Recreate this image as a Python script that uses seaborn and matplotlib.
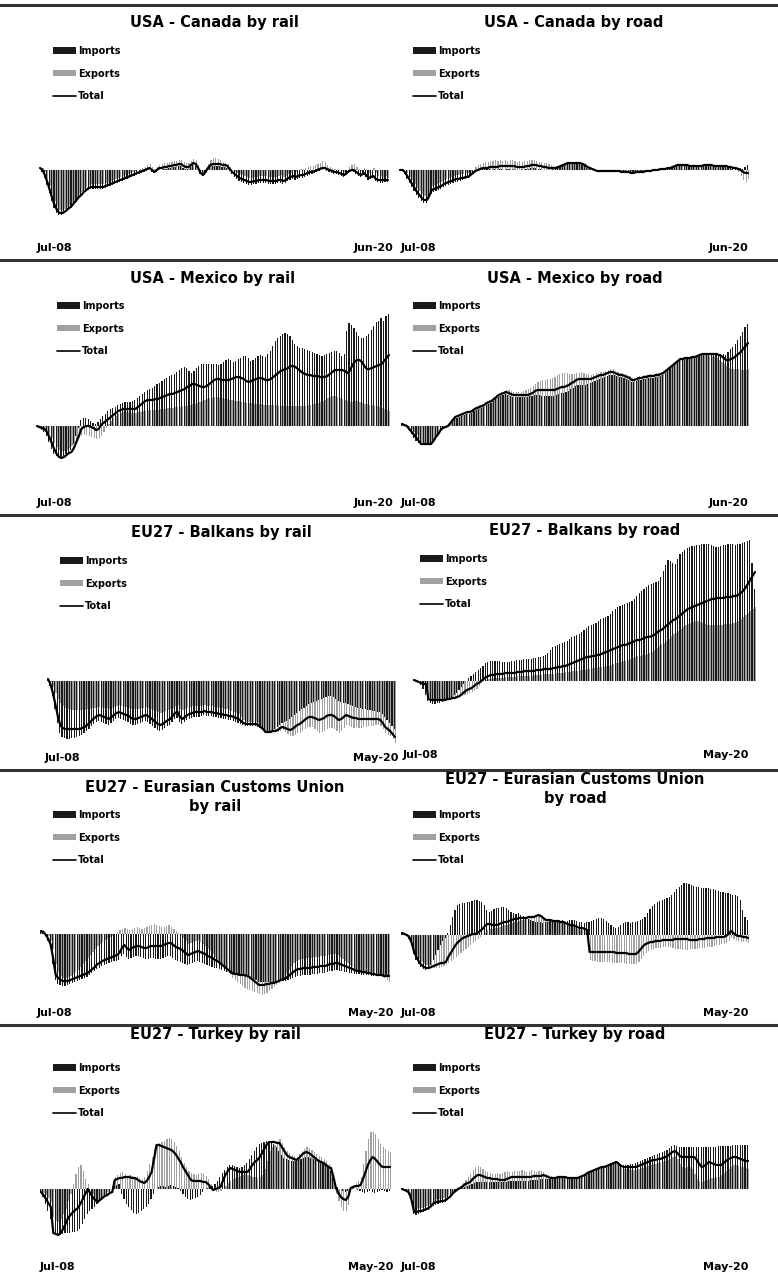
import numpy as np
import pandas as pd
import matplotlib
matplotlib.use("Agg")
import matplotlib.pyplot as plt
from matplotlib.patches import Patch
from matplotlib.lines import Line2D
import seaborn as sns

sns.set_theme(style="white")
plt.rcParams["font.family"] = ["DejaVu Sans"]
plt.rcParams["text.color"] = "black"

W, H = 778, 1275
IMP_COLOR = "#1a1a1a"
EXP_COLOR = "#a0a0a0"

# Monthly change in freight volume vs. July 2008 (%), imports / exports / total.

# USA - Canada by rail (Jul-08 .. Jun-20)
can_rail_imp = [0, -2, -8, -15, -23, -31, -38, -43, -45, -45, -44, -42,
                -40, -38, -35, -32, -29, -27, -24, -22, -20, -19, -19, -19,
                -19, -19, -19, -18, -17, -16, -15, -14, -13, -12, -11, -10,
                -9, -8, -7, -6, -5, -4, -3, -2, -1, 0, -2, -3,
                -2, 0, 0, 1, 1, 2, 2, 3, 3, 4, 4, 2,
                1, 1, 3, 5, 4, 0, -4, -6, -3, 0, 3, 4,
                4, 4, 4, 3, 3, 2, -1, -4, -7, -9, -11, -12,
                -13, -14, -15, -15, -14, -14, -13, -13, -13, -13, -14, -14,
                -14, -14, -13, -13, -14, -13, -11, -10, -9, -10, -9, -8,
                -8, -7, -6, -5, -4, -3, -2, -1, 0, 0, -1, -2,
                -3, -4, -4, -5, -6, -7, -5, -3, -2, -2, -4, -6,
                -7, -5, -7, -10, -9, -8, -11, -12, -13, -13, -12, -12]
can_rail_exp = [3, 2, -2, -9, -16, -24, -31, -36, -40, -40, -39, -37,
                -35, -33, -30, -27, -24, -22, -19, -17, -15, -14, -14, -14,
                -14, -14, -14, -13, -12, -11, -10, -9, -8, -7, -6, -5,
                -4, -3, -2, -1, 0, 1, 2, 3, 5, 6, 3, 1,
                3, 5, 6, 7, 7, 8, 8, 9, 9, 10, 10, 8,
                7, 7, 9, 11, 10, 5, -1, -3, 1, 6, 10, 12,
                12, 11, 10, 8, 7, 6, 3, 0, -2, -3, -4, -5,
                -6, -7, -8, -8, -7, -7, -6, -6, -6, -6, -7, -7,
                -7, -7, -6, -5, -7, -6, -4, -3, -1, -2, 0, 1,
                1, 2, 3, 4, 4, 5, 6, 7, 9, 8, 5, 3,
                2, 1, 1, 0, -1, -2, 0, 3, 5, 6, 3, 1,
                -1, 2, 1, -3, 0, 2, -3, -6, -6, -8, -6, -8]
can_rail_tot = [2, 0, -5, -12, -20, -28, -35, -40, -43, -43, -42, -40,
                -38, -36, -33, -30, -27, -25, -22, -20, -18, -17, -17, -17,
                -17, -17, -17, -16, -15, -14, -13, -12, -11, -10, -9, -8,
                -7, -6, -5, -4, -3, -2, -1, 0, 1, 2, 0, -2,
                0, 2, 2, 3, 3, 4, 4, 5, 5, 6, 6, 4,
                3, 3, 5, 7, 6, 2, -3, -5, -2, 2, 5, 6,
                6, 6, 6, 5, 5, 4, 1, -2, -4, -6, -8, -9,
                -10, -11, -12, -12, -11, -11, -10, -10, -10, -10, -11, -11,
                -11, -11, -10, -10, -11, -10, -8, -7, -6, -7, -6, -5,
                -5, -4, -3, -2, -2, -1, 0, 1, 2, 2, 1, 0,
                -1, -2, -2, -3, -4, -5, -3, -1, 0, 0, -2, -4,
                -5, -3, -5, -8, -7, -6, -9, -10, -10, -10, -10, -10]

# USA - Canada by road
can_road_imp = [0, -1, -4, -9, -13, -17, -21, -25, -28, -31, -33, -33,
                -29, -24, -22, -21, -20, -19, -17, -16, -15, -14, -13, -12,
                -12, -11, -10, -9, -8, -6, -3, -1, 0, 0, 1, 1,
                1, 1, 0, 1, 0, 1, 1, 0, 1, 1, 0, 1,
                0, 0, 1, 0, 1, 1, 2, 2, 2, 1, 1, 0,
                0, 0, 0, 1, 1, 2, 3, 4, 5, 6, 6, 6,
                6, 6, 6, 5, 4, 2, 1, 0, -1, -2, -2, -2,
                -2, -2, -2, -2, -2, -2, -2, -3, -3, -3, -3, -4,
                -4, -3, -3, -3, -3, -2, -2, -2, -1, -1, -1, 0,
                0, 1, 2, 2, 3, 4, 5, 5, 5, 5, 5, 4,
                4, 4, 4, 4, 5, 5, 6, 6, 6, 5, 5, 5,
                5, 5, 5, 4, 4, 3, 3, 2, 2, 1, 3, 5]
can_road_exp = [1, 1, 0, -3, -7, -10, -14, -18, -21, -24, -26, -26,
                -22, -16, -15, -14, -13, -12, -10, -9, -8, -7, -6, -5,
                -5, -4, -4, -3, -3, -2, 0, 3, 5, 6, 7, 8,
                8, 9, 9, 10, 9, 10, 9, 10, 9, 10, 10, 9,
                8, 9, 8, 9, 9, 10, 10, 10, 9, 8, 8, 7,
                7, 6, 5, 4, 4, 4, 5, 6, 7, 8, 8, 8,
                8, 8, 8, 7, 6, 4, 3, 2, 1, 0, 0, 0,
                0, 0, 0, -1, 0, 0, -1, -1, -1, -1, -1, -2,
                -2, -1, -1, -1, -1, 0, 0, 0, 1, 1, 1, 2,
                2, 2, 2, 3, 3, 4, 5, 5, 5, 5, 5, 4,
                4, 4, 3, 4, 3, 4, 4, 4, 4, 3, 3, 3,
                3, 3, 2, 2, 1, 0, 0, -2, -6, -10, -12, -9]
can_road_tot = [0, 0, -2, -6, -10, -14, -18, -22, -25, -28, -30, -30,
                -26, -20, -19, -18, -17, -16, -14, -13, -12, -11, -10, -9,
                -9, -8, -8, -7, -7, -5, -3, -1, 0, 1, 2, 2,
                2, 3, 3, 3, 3, 4, 4, 4, 4, 4, 4, 4,
                3, 3, 3, 3, 4, 4, 5, 5, 5, 4, 4, 3,
                3, 2, 2, 2, 2, 3, 4, 5, 6, 7, 7, 7,
                7, 7, 7, 6, 5, 3, 2, 1, 0, -1, -1, -1,
                -1, -1, -1, -1, -1, -1, -1, -2, -2, -2, -2, -3,
                -3, -2, -2, -2, -2, -1, -1, -1, 0, 0, 0, 1,
                1, 1, 2, 2, 3, 4, 5, 5, 5, 5, 5, 4,
                4, 4, 4, 4, 4, 5, 5, 5, 5, 4, 4, 4,
                4, 4, 4, 3, 3, 2, 2, 1, 0, -2, -3, -3]

# USA - Mexico by rail
mex_rail_imp = [0, -2, -4, -6, -10, -16, -23, -28, -30, -31, -31, -30,
                -28, -26, -24, -18, -10, -2, 6, 8, 8, 7, 5, 3,
                2, 4, 7, 10, 12, 15, 17, 18, 19, 21, 22, 23,
                24, 24, 24, 25, 26, 28, 30, 32, 34, 36, 37, 38,
                40, 42, 43, 45, 47, 48, 50, 51, 52, 54, 56, 58,
                59, 58, 55, 53, 55, 58, 60, 62, 62, 62, 62, 62,
                62, 62, 61, 62, 64, 66, 67, 66, 64, 65, 67, 68,
                70, 70, 68, 65, 66, 68, 70, 71, 70, 69, 72, 75,
                80, 85, 88, 90, 92, 93, 92, 90, 86, 82, 80, 78,
                78, 77, 76, 75, 74, 73, 72, 71, 70, 71, 72, 73,
                74, 75, 75, 73, 70, 72, 95, 103, 101, 98, 94, 90,
                88, 88, 90, 92, 96, 100, 104, 105, 108, 105, 110, 112]
mex_rail_exp = [0, -1, -2, -3, -5, -8, -12, -17, -21, -24, -25, -25,
                -24, -22, -20, -17, -14, -12, -10, -9, -9, -10, -11, -12,
                -13, -12, -10, -6, -2, 2, 5, 8, 10, 12, 13, 14,
                14, 14, 13, 13, 13, 14, 14, 15, 15, 16, 16, 16,
                16, 16, 17, 17, 17, 18, 18, 18, 19, 19, 19, 20,
                20, 20, 21, 22, 22, 23, 24, 25, 26, 27, 28, 28,
                29, 29, 28, 28, 27, 27, 26, 26, 25, 25, 25, 24,
                24, 23, 23, 23, 22, 22, 22, 22, 21, 21, 21, 21,
                21, 21, 20, 20, 20, 20, 20, 20, 20, 20, 20, 20,
                20, 20, 21, 21, 22, 22, 23, 24, 25, 26, 28, 29,
                30, 30, 29, 28, 27, 26, 25, 24, 24, 25, 25, 24,
                23, 22, 22, 21, 21, 20, 20, 19, 18, 17, 16, 15]
mex_rail_tot = [0, -1, -2, -3, -6, -11, -17, -23, -28, -31, -32, -31,
                -29, -27, -26, -22, -16, -10, -3, -1, 0, 0, -1, -2,
                -4, -3, 1, 3, 5, 7, 9, 11, 13, 15, 16, 17,
                17, 17, 17, 17, 17, 19, 21, 23, 25, 26, 26, 26,
                27, 27, 28, 29, 30, 31, 32, 32, 33, 34, 35, 36,
                37, 39, 40, 42, 42, 41, 40, 39, 39, 40, 42, 44,
                46, 47, 47, 46, 46, 46, 46, 47, 48, 49, 49, 48,
                47, 45, 44, 45, 46, 47, 48, 48, 47, 46, 46, 47,
                49, 51, 53, 55, 56, 57, 58, 60, 60, 59, 57, 55,
                53, 52, 51, 51, 50, 50, 50, 49, 49, 49, 50, 52,
                54, 56, 56, 56, 56, 55, 53, 55, 60, 64, 66, 66,
                64, 60, 57, 57, 58, 59, 60, 61, 62, 65, 68, 71]

# USA - Mexico by road
mex_road_imp = [3, 2, 0, -4, -8, -12, -15, -17, -19, -19, -19, -19,
                -19, -16, -12, -9, -5, -3, -2, -1, 1, 4, 7, 8,
                9, 10, 11, 12, 12, 13, 15, 16, 17, 18, 19, 21,
                22, 23, 25, 27, 29, 30, 31, 32, 31, 30, 29, 29,
                29, 29, 29, 29, 29, 30, 30, 31, 31, 31, 30, 30,
                30, 30, 30, 30, 31, 32, 33, 33, 34, 35, 37, 38,
                40, 41, 41, 41, 41, 42, 43, 44, 45, 46, 47, 48,
                49, 50, 51, 51, 51, 50, 49, 49, 48, 47, 46, 44,
                44, 45, 46, 46, 47, 47, 48, 48, 48, 49, 49, 50,
                51, 53, 55, 58, 60, 62, 64, 66, 66, 67, 67, 67,
                68, 68, 69, 70, 71, 71, 71, 72, 72, 72, 72, 72,
                72, 72, 71, 74, 77, 79, 82, 86, 90, 94, 99, 102]
mex_road_exp = [1, 1, 0, -2, -4, -6, -9, -13, -16, -17, -17, -17,
                -17, -14, -10, -7, -3, -1, 0, 1, 4, 7, 10, 11,
                12, 13, 14, 15, 16, 17, 19, 20, 21, 22, 23, 25,
                26, 27, 29, 31, 33, 34, 35, 36, 36, 35, 34, 34,
                34, 34, 35, 36, 37, 38, 40, 42, 44, 45, 46, 46,
                47, 47, 48, 49, 51, 52, 53, 53, 53, 52, 52, 52,
                53, 53, 54, 53, 52, 52, 51, 52, 53, 53, 54, 54,
                55, 56, 57, 57, 55, 54, 53, 53, 52, 51, 50, 48,
                48, 49, 50, 50, 51, 51, 52, 52, 52, 53, 53, 54,
                55, 57, 59, 60, 62, 64, 66, 67, 67, 68, 68, 68,
                69, 69, 70, 70, 71, 71, 71, 70, 70, 69, 68, 66,
                64, 62, 60, 58, 57, 57, 57, 57, 56, 56, 56, 57]
mex_road_tot = [2, 1, 0, -3, -6, -9, -12, -15, -18, -18, -18, -18,
                -18, -15, -11, -8, -4, -2, -1, 0, 3, 6, 9, 10,
                11, 12, 13, 14, 14, 15, 17, 18, 19, 20, 21, 23,
                24, 25, 27, 29, 31, 32, 33, 34, 33, 32, 31, 31,
                31, 31, 31, 31, 31, 32, 33, 35, 36, 36, 36, 36,
                36, 36, 36, 36, 37, 38, 39, 39, 40, 41, 43, 44,
                46, 47, 47, 47, 47, 47, 47, 48, 49, 50, 51, 51,
                52, 53, 54, 54, 53, 52, 51, 51, 50, 49, 48, 46,
                46, 47, 48, 48, 49, 49, 50, 50, 50, 51, 51, 52,
                53, 55, 57, 59, 61, 63, 65, 67, 67, 68, 68, 68,
                69, 69, 70, 71, 72, 72, 72, 72, 72, 72, 72, 71,
                70, 68, 66, 66, 67, 68, 70, 72, 74, 77, 80, 83]

# EU27 - Balkans by rail (Jul-08 .. May-20)
bal_rail_imp = [1, -5, -15, -28, -42, -52, -56, -57, -58, -58, -57, -57,
                -56, -55, -54, -52, -50, -48, -45, -43, -41, -40, -41, -42,
                -43, -44, -42, -40, -38, -37, -38, -39, -40, -41, -43, -44,
                -44, -43, -42, -41, -40, -41, -43, -45, -47, -49, -50, -49,
                -47, -45, -44, -41, -38, -37, -41, -43, -41, -39, -38, -37,
                -36, -36, -36, -35, -34, -35, -35, -35, -36, -36, -37, -37,
                -38, -38, -39, -39, -40, -41, -42, -43, -44, -45, -45, -45,
                -45, -45, -46, -47, -48, -50, -50, -50, -49, -48, -46, -44,
                -42, -41, -40, -38, -36, -34, -32, -30, -28, -27, -25, -23,
                -22, -21, -20, -19, -18, -17, -16, -15, -15, -16, -18, -20,
                -21, -22, -22, -23, -24, -25, -26, -27, -27, -28, -28, -29,
                -29, -30, -30, -31, -31, -33, -36, -39, -42, -45, -48]
bal_rail_exp = [2, -1, -6, -12, -18, -22, -25, -27, -28, -29, -29, -29,
                -29, -29, -29, -29, -28, -28, -27, -27, -26, -26, -27, -27,
                -27, -28, -27, -26, -25, -24, -25, -26, -26, -27, -28, -28,
                -28, -28, -27, -27, -26, -27, -28, -29, -30, -31, -32, -31,
                -30, -29, -28, -27, -25, -24, -28, -29, -28, -27, -26, -25,
                -25, -25, -25, -25, -24, -25, -25, -25, -26, -26, -27, -27,
                -28, -28, -29, -30, -31, -32, -33, -36, -39, -41, -41, -41,
                -41, -41, -42, -45, -48, -52, -52, -52, -51, -51, -51, -50,
                -49, -51, -53, -55, -55, -54, -52, -52, -50, -48, -46, -46,
                -46, -48, -50, -52, -51, -50, -48, -47, -47, -48, -50, -52,
                -50, -47, -44, -45, -46, -47, -46, -47, -47, -46, -46, -45,
                -45, -45, -44, -44, -45, -48, -52, -54, -55, -58, -62]
bal_rail_tot = [2, -3, -12, -23, -35, -44, -47, -48, -48, -48, -48, -48,
                -48, -48, -47, -46, -44, -42, -39, -37, -35, -34, -35, -36,
                -37, -38, -36, -34, -32, -31, -32, -33, -34, -35, -37, -38,
                -38, -37, -36, -35, -34, -35, -37, -39, -41, -43, -44, -43,
                -41, -39, -38, -35, -32, -31, -36, -38, -36, -34, -33, -32,
                -31, -31, -31, -31, -30, -31, -31, -31, -32, -32, -33, -33,
                -34, -34, -35, -35, -36, -37, -38, -40, -42, -43, -43, -43,
                -43, -43, -44, -46, -48, -51, -51, -51, -50, -50, -49, -47,
                -46, -47, -48, -49, -48, -46, -44, -43, -41, -39, -37, -36,
                -36, -37, -38, -39, -38, -37, -35, -34, -34, -35, -37, -39,
                -38, -36, -34, -35, -36, -37, -37, -38, -38, -38, -38, -38,
                -38, -38, -38, -38, -39, -42, -46, -48, -50, -53, -56]

# EU27 - Balkans by road
bal_road_imp = [1, 0, -2, -4, -8, -14, -20, -22, -23, -23, -22, -22,
                -21, -20, -19, -18, -16, -14, -12, -9, -6, -3, 0, 3,
                5, 7, 9, 11, 13, 15, 18, 19, 20, 20, 20, 20,
                20, 19, 19, 19, 19, 20, 20, 21, 21, 21, 22, 22,
                22, 22, 23, 23, 24, 24, 25, 26, 28, 31, 34, 35,
                36, 37, 38, 39, 40, 42, 44, 45, 46, 47, 49, 51,
                53, 55, 56, 57, 58, 60, 62, 63, 64, 65, 67, 70,
                72, 74, 75, 76, 77, 78, 79, 80, 82, 85, 88, 90,
                92, 94, 96, 97, 98, 99, 100, 104, 110, 116, 121, 120,
                118, 117, 122, 127, 129, 131, 133, 134, 135, 135, 136, 136,
                137, 137, 137, 137, 136, 135, 134, 134, 135, 136, 136, 137,
                137, 137, 136, 137, 137, 138, 139, 140, 141, 118, 92]
bal_road_exp = [1, 0, -1, -2, -3, -8, -16, -18, -18, -18, -18, -18,
                -18, -18, -17, -17, -16, -16, -15, -15, -15, -14, -13, -12,
                -11, -10, -8, -5, -2, 0, 1, 2, 2, 3, 3, 3,
                3, 3, 4, 4, 4, 4, 4, 5, 5, 5, 5, 5,
                5, 5, 6, 6, 6, 6, 7, 7, 7, 7, 7, 8,
                8, 8, 8, 9, 9, 9, 10, 10, 10, 11, 11, 11,
                12, 12, 13, 13, 13, 14, 14, 14, 15, 15, 16, 17,
                18, 18, 19, 20, 20, 21, 22, 23, 24, 25, 25, 26,
                26, 27, 28, 29, 31, 33, 35, 37, 38, 40, 42, 45,
                47, 48, 50, 52, 54, 56, 57, 58, 59, 60, 60, 59,
                58, 57, 56, 56, 56, 56, 56, 56, 56, 57, 57, 57,
                57, 58, 59, 60, 62, 64, 66, 68, 70, 72, 74]
bal_road_tot = [1, 0, -1, -2, -3, -3, -18, -19, -19, -19, -19, -19,
                -19, -19, -18, -18, -17, -17, -16, -15, -13, -11, -9, -8,
                -7, -5, -3, -2, 0, 2, 4, 5, 6, 6, 7, 7,
                7, 7, 8, 8, 8, 8, 8, 9, 9, 9, 10, 10,
                10, 10, 10, 11, 11, 11, 12, 12, 12, 12, 13, 13,
                14, 14, 15, 15, 16, 17, 18, 19, 20, 21, 22, 23,
                24, 24, 25, 25, 26, 26, 27, 28, 29, 30, 31, 32,
                33, 34, 35, 36, 36, 37, 38, 39, 40, 41, 41, 42,
                43, 44, 44, 45, 46, 48, 50, 51, 53, 55, 57, 59,
                61, 62, 64, 66, 68, 70, 72, 73, 74, 75, 76, 77,
                78, 79, 80, 81, 82, 82, 83, 83, 83, 83, 84, 84,
                84, 85, 85, 86, 88, 90, 93, 97, 101, 105, 109]

# EU27 - Eurasian Customs Union by rail
ecu_rail_imp = [2, 1, -2, -7, -14, -30, -46, -50, -51, -52, -52, -51,
                -50, -49, -48, -47, -46, -45, -44, -43, -41, -39, -37, -35,
                -34, -32, -31, -30, -29, -28, -27, -27, -26, -22, -20, -23,
                -25, -24, -23, -22, -22, -23, -24, -25, -25, -24, -24, -25,
                -25, -25, -24, -23, -22, -22, -24, -26, -27, -28, -29, -30,
                -31, -30, -29, -28, -27, -28, -29, -30, -31, -32, -33, -34,
                -34, -35, -36, -37, -38, -39, -40, -40, -40, -41, -41, -41,
                -42, -43, -44, -45, -46, -48, -48, -48, -48, -48, -48, -48,
                -48, -48, -47, -47, -47, -46, -45, -44, -43, -42, -42, -41,
                -41, -41, -41, -40, -40, -40, -39, -39, -39, -38, -37, -37,
                -36, -36, -37, -37, -38, -38, -39, -39, -40, -40, -40, -41,
                -41, -41, -41, -42, -42, -42, -42, -42, -43, -43, -43]
ecu_rail_exp = [3, 2, 0, -2, -6, -15, -30, -38, -42, -44, -44, -43,
                -42, -40, -38, -36, -33, -30, -27, -24, -21, -18, -15, -12,
                -10, -8, -6, -5, -3, -2, 0, 2, 4, 5, 6, 5,
                4, 5, 6, 7, 6, 5, 6, 7, 8, 9, 10, 9,
                8, 7, 7, 8, 9, 7, 5, 3, 1, -1, -4, -7,
                -10, -9, -8, -7, -6, -8, -10, -12, -15, -17, -20, -23,
                -26, -29, -32, -35, -38, -41, -44, -46, -48, -50, -52, -54,
                -55, -56, -57, -58, -59, -60, -61, -60, -59, -57, -55, -53,
                -51, -49, -47, -44, -40, -36, -32, -29, -27, -26, -25, -25,
                -24, -24, -24, -23, -23, -23, -22, -22, -22, -21, -20, -20,
                -20, -21, -23, -25, -27, -29, -31, -33, -35, -37, -38, -39,
                -39, -40, -40, -41, -41, -42, -42, -43, -44, -46, -48]
ecu_rail_tot = [3, 2, -1, -5, -11, -25, -41, -44, -46, -47, -47, -47,
                -46, -45, -44, -43, -42, -41, -40, -39, -37, -35, -33, -30,
                -29, -27, -26, -25, -24, -23, -22, -21, -19, -14, -11, -14,
                -16, -14, -13, -12, -12, -13, -14, -14, -13, -12, -12, -12,
                -12, -12, -11, -10, -9, -9, -11, -13, -14, -15, -17, -19,
                -21, -20, -19, -18, -17, -18, -19, -20, -22, -23, -24, -26,
                -27, -29, -31, -33, -35, -37, -39, -40, -40, -41, -41, -41,
                -42, -43, -45, -47, -49, -51, -51, -51, -50, -50, -49, -49,
                -48, -47, -46, -45, -44, -42, -40, -38, -36, -35, -35, -34,
                -34, -34, -34, -33, -33, -33, -32, -32, -32, -31, -30, -30,
                -29, -29, -30, -31, -32, -33, -34, -35, -36, -37, -37, -38,
                -38, -39, -39, -40, -40, -41, -41, -41, -42, -42, -42]

# EU27 - Eurasian Customs Union by road
ecu_road_imp = [2, 1, -1, -4, -10, -19, -25, -29, -32, -34, -35, -34,
                -30, -25, -20, -15, -10, -6, -3, 2, 10, 18, 25, 30,
                31, 32, 32, 33, 33, 34, 35, 35, 34, 33, 30, 25,
                23, 24, 26, 27, 27, 28, 28, 27, 25, 23, 22, 21,
                22, 20, 19, 17, 16, 15, 14, 13, 13, 13, 12, 13,
                13, 14, 14, 13, 14, 15, 15, 14, 14, 15, 15, 15,
                14, 13, 13, 12, 13, 13, 14, 15, 16, 17, 17, 16,
                14, 12, 10, 8, 7, 8, 10, 12, 13, 13, 12, 13,
                13, 14, 15, 16, 18, 22, 26, 29, 31, 33, 34, 35,
                36, 37, 38, 40, 43, 46, 48, 50, 52, 52, 51, 50,
                49, 48, 48, 47, 47, 47, 47, 46, 46, 45, 44, 43,
                43, 42, 42, 41, 40, 40, 39, 35, 25, 18, 15]
ecu_road_exp = [2, 1, 0, -1, -6, -15, -20, -24, -27, -29, -30, -31,
                -32, -33, -33, -33, -32, -31, -30, -28, -26, -24, -22, -20,
                -18, -16, -14, -12, -10, -8, -6, -4, -2, 0, 2, 5,
                6, 6, 7, 7, 8, 9, 10, 10, 11, 12, 13, 13,
                14, 15, 15, 16, 17, 18, 18, 19, 20, 19, 18, 16,
                15, 15, 14, 14, 13, 12, 12, 11, 10, 9, 8, 7,
                6, 5, 5, 4, 3, -25, -26, -26, -27, -27, -27, -27,
                -27, -27, -28, -28, -28, -28, -28, -28, -29, -29, -29, -29,
                -29, -27, -24, -21, -18, -16, -15, -14, -13, -13, -13, -12,
                -12, -12, -12, -13, -14, -14, -14, -15, -15, -15, -14, -14,
                -14, -14, -13, -13, -13, -12, -12, -12, -11, -10, -10, -9,
                -9, -8, -6, -3, -4, -5, -6, -7, -7, -7, -8]
ecu_road_tot = [2, 1, 0, -2, -8, -17, -22, -27, -30, -32, -33, -33,
                -32, -31, -30, -29, -28, -28, -27, -22, -18, -14, -10, -7,
                -5, -3, -2, -1, 0, 1, 1, 2, 4, 6, 9, 11,
                11, 10, 10, 10, 11, 12, 13, 13, 14, 15, 16, 16,
                17, 17, 17, 17, 18, 18, 18, 19, 20, 19, 17, 15,
                15, 15, 14, 14, 14, 13, 13, 12, 11, 10, 10, 9,
                8, 7, 7, 6, 5, -17, -17, -17, -17, -17, -17, -17,
                -17, -17, -17, -17, -18, -18, -18, -18, -18, -19, -19, -19,
                -19, -17, -14, -11, -9, -8, -7, -7, -6, -6, -6, -5,
                -5, -5, -5, -5, -4, -4, -4, -4, -4, -4, -5, -5,
                -5, -5, -4, -4, -4, -3, -3, -3, -3, -2, -2, -2,
                -2, -1, 1, 4, 2, 0, -1, -1, -2, -2, -3]

# EU27 - Turkey by rail
tur_rail_imp = [-3, -8, -15, -22, -30, -42, -45, -46, -46, -45, -44, -44,
                -44, -43, -43, -42, -40, -35, -30, -25, -22, -20, -18, -15,
                -12, -10, -8, -5, -3, 0, 3, 4, 5, -5, -10, -15,
                -18, -21, -24, -25, -24, -22, -20, -18, -15, -10, -5, 0,
                2, 3, 3, 2, 3, 4, 3, 2, 1, -2, -5, -8,
                -10, -11, -10, -9, -8, -6, -3, 0, 1, 2, 3, 5,
                8, 12, 16, 19, 22, 24, 24, 23, 22, 21, 22, 24,
                26, 30, 34, 38, 42, 45, 46, 47, 48, 48, 47, 45,
                42, 38, 34, 31, 30, 29, 28, 28, 28, 29, 30, 31,
                32, 32, 31, 30, 29, 28, 27, 26, 25, 22, 18, 12,
                5, 2, 0, -2, -3, -2, 0, 1, 0, -1, -2, -3,
                -4, -3, -2, -3, -4, -3, -2, -1, -2, -3, -2]
tur_rail_exp = [-2, -4, -6, -9, -13, -28, -32, -33, -30, -25, -20, -12,
                -5, 5, 15, 22, 24, 18, 10, 5, 0, -5, -10, -12,
                -10, -8, -5, -3, -1, 2, 12, 14, 16, 17, 15, 13,
                14, 13, 12, 13, 11, 10, 12, 18, 25, 32, 40, 45,
                46, 47, 48, 50, 51, 50, 47, 43, 38, 32, 26, 22,
                18, 16, 15, 14, 15, 16, 15, 13, 10, 5, 0, -3,
                -3, -2, 0, 3, 6, 8, 10, 11, 12, 13, 14, 15,
                14, 13, 12, 12, 11, 12, 14, 20, 28, 38, 42, 44,
                48, 50, 46, 42, 38, 36, 34, 33, 32, 35, 38, 40,
                42, 41, 39, 37, 35, 33, 32, 30, 28, 25, 22, 10,
                -5, -12, -18, -22, -22, -16, 0, 4, 6, 8, 12, 25,
                38, 50, 57, 57, 55, 50, 45, 42, 40, 38, 37]
tur_rail_tot = [-3, -6, -10, -14, -18, -44, -45, -46, -44, -40, -35, -29,
                -26, -23, -21, -19, -15, -10, -5, 0, -4, -8, -11, -13,
                -11, -9, -7, -6, -4, -3, 9, 10, 11, 11, 12, 12,
                12, 11, 11, 10, 8, 7, 6, 8, 12, 17, 30, 44,
                44, 43, 42, 41, 40, 39, 37, 34, 30, 26, 21, 17,
                13, 9, 8, 8, 8, 8, 7, 7, 5, 2, -1, 0,
                1, 2, 8, 14, 18, 21, 20, 19, 18, 17, 17, 17,
                17, 20, 24, 27, 29, 32, 36, 41, 45, 47, 47, 47,
                46, 46, 42, 38, 34, 32, 31, 30, 29, 31, 34, 36,
                37, 36, 34, 32, 30, 28, 27, 26, 24, 22, 21, 12,
                1, -4, -8, -10, -11, -8, 1, 2, 3, 3, 4, 10,
                17, 24, 29, 32, 30, 27, 24, 22, 22, 22, 22]

# EU27 - Turkey by road
tur_road_imp = [0, -1, -3, -6, -14, -25, -26, -25, -24, -23, -22, -21,
                -19, -17, -16, -15, -14, -14, -13, -11, -9, -6, -3, -1,
                0, 1, 2, 3, 4, 5, 6, 7, 7, 7, 7, 7,
                7, 7, 7, 7, 7, 7, 7, 7, 8, 8, 8, 8,
                8, 8, 8, 8, 8, 9, 9, 9, 9, 10, 10, 10,
                10, 10, 10, 10, 11, 11, 11, 11, 11, 11, 11, 11,
                11, 12, 13, 14, 16, 17, 18, 19, 20, 21, 22, 23,
                24, 25, 26, 27, 28, 27, 25, 24, 24, 24, 25, 25,
                26, 27, 28, 29, 30, 31, 32, 33, 34, 35, 36, 37,
                38, 39, 41, 43, 44, 43, 42, 42, 42, 42, 42, 42,
                42, 42, 42, 42, 42, 42, 42, 42, 42, 42, 43, 43,
                43, 43, 43, 43, 44, 44, 44, 44, 44, 44, 44]
tur_road_exp = [0, 0, -1, -3, -10, -20, -20, -19, -19, -18, -17, -16,
                -15, -12, -10, -10, -10, -9, -8, -6, -4, -2, 0, 2,
                3, 6, 9, 12, 15, 19, 22, 23, 22, 20, 18, 17,
                16, 15, 15, 16, 15, 16, 17, 18, 17, 17, 18, 18,
                18, 19, 18, 17, 18, 19, 18, 17, 18, 18, 17, 15,
                14, 13, 12, 12, 13, 13, 13, 13, 12, 12, 12, 12,
                12, 12, 13, 14, 15, 16, 17, 18, 19, 20, 21, 21,
                22, 23, 24, 25, 26, 23, 21, 20, 20, 20, 19, 19,
                19, 20, 21, 21, 22, 23, 24, 25, 25, 26, 26, 27,
                28, 29, 30, 32, 33, 30, 25, 22, 21, 22, 22, 20,
                15, 10, 8, 7, 8, 9, 10, 11, 11, 12, 12, 14,
                16, 18, 20, 22, 24, 24, 23, 22, 22, 21, 20]
tur_road_tot = [0, -1, -2, -4, -12, -23, -23, -22, -22, -21, -20, -19,
                -17, -14, -13, -13, -12, -12, -11, -9, -7, -4, -2, 0,
                1, 3, 5, 6, 7, 10, 12, 14, 14, 13, 12, 11,
                11, 10, 10, 10, 9, 9, 9, 10, 11, 12, 12, 12,
                12, 12, 12, 12, 12, 12, 13, 13, 13, 13, 14, 13,
                12, 11, 11, 11, 12, 12, 12, 12, 11, 11, 11, 11,
                11, 12, 13, 14, 16, 17, 18, 19, 20, 21, 22, 22,
                23, 24, 25, 26, 27, 25, 23, 22, 22, 22, 22, 22,
                22, 23, 24, 25, 26, 27, 28, 29, 29, 30, 30, 31,
                32, 33, 35, 37, 38, 36, 33, 32, 32, 32, 32, 32,
                32, 29, 25, 22, 23, 25, 27, 26, 25, 24, 24, 24,
                26, 28, 30, 31, 32, 32, 31, 30, 29, 28, 28]

# Panel titles, one entry per line of the title
titles = [["USA - Canada by rail"], ["USA - Canada by road"],
          ["USA - Mexico by rail"], ["USA - Mexico by road"],
          ["EU27 - Balkans by rail"], ["EU27 - Balkans by road"],
          ["EU27 - Eurasian Customs Union", "by rail"],
          ["EU27 - Eurasian Customs Union", "by road"],
          ["EU27 - Turkey by rail"], ["EU27 - Turkey by road"]]
start_labels = ["Jul-08"] * 10
end_labels = ["Jun-20"] * 4 + ["May-20"] * 6
series = [(can_rail_imp, can_rail_exp, can_rail_tot), (can_road_imp, can_road_exp, can_road_tot),
          (mex_rail_imp, mex_rail_exp, mex_rail_tot), (mex_road_imp, mex_road_exp, mex_road_tot),
          (bal_rail_imp, bal_rail_exp, bal_rail_tot), (bal_road_imp, bal_road_exp, bal_road_tot),
          (ecu_rail_imp, ecu_rail_exp, ecu_rail_tot), (ecu_road_imp, ecu_road_exp, ecu_road_tot),
          (tur_rail_imp, tur_rail_exp, tur_rail_tot), (tur_road_imp, tur_road_exp, tur_road_tot)]

# Layout in pixels: plot span (first/last month), zero line, title, legend, date row
layout = [
    dict(x0=40, x1=388, zero=170, title_y=23, leg=(53, 52), date_y=248, jx=37, ex=393),
    dict(x0=400, x1=748, zero=170, title_y=23, leg=(413, 52), date_y=248, jx=401, ex=748),
    dict(x0=37, x1=389, zero=426, title_y=278, leg=(57, 307), date_y=503, jx=37, ex=393),
    dict(x0=402, x1=748, zero=426, title_y=278, leg=(413, 307), date_y=503, jx=401, ex=748),
    dict(x0=48, x1=395, zero=681, title_y=533, leg=(60, 562), date_y=758, jx=45, ex=398),
    dict(x0=414, x1=755, zero=681, title_y=530, leg=(420, 560), date_y=755, jx=403, ex=748),
    dict(x0=41, x1=389, zero=934, title_y=788, leg=(53, 816), date_y=1013, jx=37, ex=393),
    dict(x0=402, x1=748, zero=935, title_y=780, leg=(413, 816), date_y=1013, jx=401, ex=748),
    dict(x0=41, x1=390, zero=1189, title_y=1035, leg=(53, 1069), date_y=1267, jx=40, ex=393),
    dict(x0=402, x1=748, zero=1189, title_y=1035, leg=(413, 1069), date_y=1267, jx=401, ex=748),
]
separators = [5, 260, 515, 770, 1025]
TITLE_LINE_STEP = 19

fig = plt.figure(figsize=(W / 100, H / 100), dpi=100)
fig.patch.set_facecolor("white")

ABOVE, BELOW = 160, 90  # axis extent above / below the zero line (1 unit = 1 px)

for title, (imp, exp, tot), lay, s_lab, e_lab in zip(titles, series, layout, start_labels, end_labels):
    n = min(len(imp), len(exp), len(tot))
    imp, exp, tot = imp[:n], exp[:n], tot[:n]
    u = (lay["x1"] - lay["x0"]) / (n - 1)
    left = (lay["x0"] - 0.5 * u) / W
    width = n * u / W
    bottom = 1 - (lay["zero"] + BELOW) / H
    height = (ABOVE + BELOW) / H
    ax = fig.add_axes([left, bottom, width, height])
    ax.patch.set_alpha(0)

    df = pd.DataFrame({
        "month": np.tile(np.arange(n), 2),
        "value": np.concatenate([imp, exp]),
        "flow": ["Imports"] * n + ["Exports"] * n,
    })
    sns.barplot(data=df, x="month", y="value", hue="flow", hue_order=["Imports", "Exports"],
                palette=[IMP_COLOR, EXP_COLOR], width=0.96, linewidth=0, saturation=1,
                errorbar=None, legend=False, ax=ax)
    sns.lineplot(x=np.arange(n), y=tot, color="black", linewidth=1.6, ax=ax, legend=False)

    ax.set_xlim(-0.5, n - 0.5)
    ax.set_ylim(-BELOW, ABOVE)
    ax.axis("off")

    handles = [Patch(facecolor=IMP_COLOR, edgecolor="none"),
               Patch(facecolor=EXP_COLOR, edgecolor="none"),
               Line2D([], [], color="black", linewidth=1.2)]
    lx, ly = lay["leg"]
    ax.legend(handles, ["Imports", "Exports", "Total"], loc="upper left",
              bbox_to_anchor=(lx / W, 1 - (ly - 6) / H), bbox_transform=fig.transFigure,
              frameon=False, prop={"weight": "bold", "size": 7},
              handlelength=2.4, handleheight=0.65, handletextpad=0.15,
              labelspacing=1.3, borderpad=0, borderaxespad=0)

    cx = (lay["x0"] + lay["x1"]) / 2
    for k, line in enumerate(title):
        fig.text(cx / W, 1 - (lay["title_y"] + k * TITLE_LINE_STEP) / H, line,
                 ha="center", va="center", fontsize=10.5, fontweight="bold")
    fig.text(lay["jx"] / W, 1 - lay["date_y"] / H, s_lab, ha="left", va="center",
             fontsize=8, fontweight="bold")
    fig.text(lay["ex"] / W, 1 - lay["date_y"] / H, e_lab, ha="right", va="center",
             fontsize=8, fontweight="bold")

for y in separators:
    fig.add_artist(Line2D([0, 1], [1 - y / H, 1 - y / H], transform=fig.transFigure,
                          color="#333333", linewidth=2.2))

fig.savefig("out.png", dpi=100, facecolor="white")
